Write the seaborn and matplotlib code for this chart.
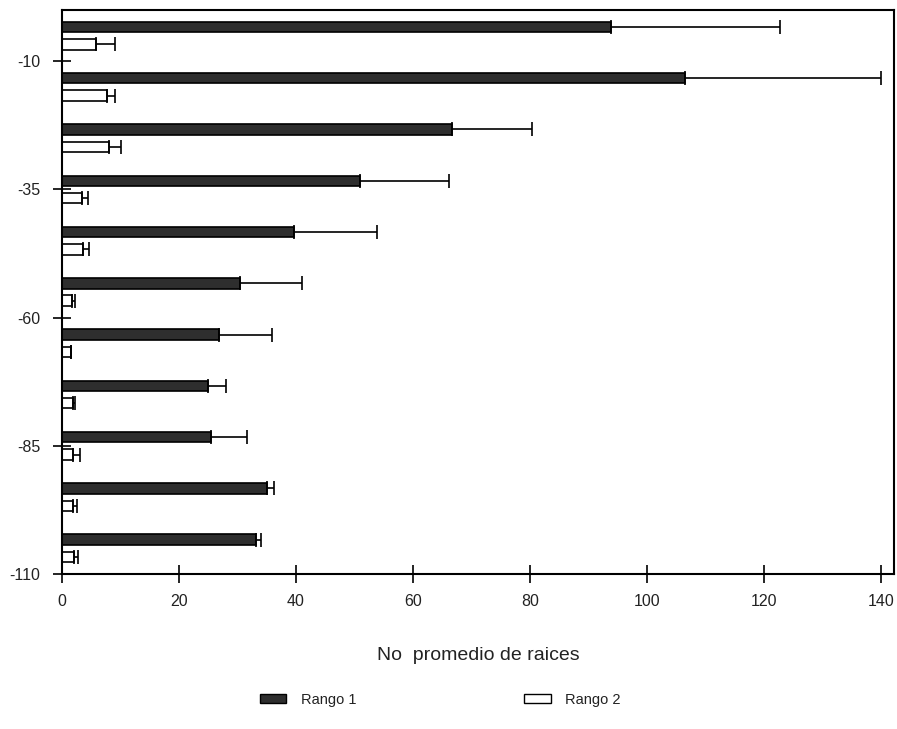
#!/usr/bin/env python3
import matplotlib
matplotlib.use("Agg")
import matplotlib.pyplot as plt
from matplotlib.patches import Patch
import numpy as np
import pandas as pd
import seaborn as sns

# profundidad (centro de cada intervalo, cm)
profundidad = [-5, -15, -25, -35, -45, -55, -65, -75, -85, -95, -105]
rango1 = [93.8, 106.5, 66.7, 51.0, 39.7, 30.4, 26.9, 24.9, 25.4, 35.0, 33.2]
rango1_err = [28.9, 33.5, 13.7, 15.2, 14.1, 10.7, 9.0, 3.1, 6.3, 1.3, 0.8]
rango2 = [5.8, 7.7, 8.0, 3.4, 3.6, 1.7, 1.6, 1.8, 1.8, 1.8, 2.0]
rango2_err = [3.3, 1.4, 2.1, 1.0, 1.0, 0.6, 0.0, 0.5, 1.3, 0.7, 0.8]
y_ticks = [-10, -35, -60, -85, -110]
y_ticklabels = ["-10", "-35", "-60", "-85", "-110"]
x_ticks = [0, 20, 40, 60, 80, 100, 120, 140]

sns.set_style("white")
plt.rcParams["font.family"] = ["Liberation Sans", "DejaVu Sans"]
plt.rcParams["axes.unicode_minus"] = False

df = pd.concat([
    pd.DataFrame({"prof": profundidad, "valor": rango1, "rango": "Rango 1"}),
    pd.DataFrame({"prof": profundidad, "valor": rango2, "rango": "Rango 2"}),
])
errores = {"Rango 1": np.array(rango1_err), "Rango 2": np.array(rango2_err)}
colores = {"Rango 1": "#2e2e2e", "Rango 2": "white"}
hue_order = ["Rango 2", "Rango 1"]

fig = plt.figure(figsize=(8.97, 7.29), dpi=100)
ax = fig.add_axes([0.0691, 0.2126, 0.9275, 0.7737])

sns.barplot(data=df, x="valor", y="prof", hue="rango", hue_order=hue_order,
            orient="h", native_scale=True, width=0.68, gap=0.40,
            errorbar=None, palette=colores, saturation=1, legend=False,
            edgecolor="black", linewidth=1.2, ax=ax)

prof = np.array(profundidad)
for nivel, cont in zip(hue_order, ax.containers):
    for bar in cont:
        yc = bar.get_y() + bar.get_height() / 2
        i = np.argmin(np.abs(prof - yc))
        ax.errorbar(bar.get_width(), yc, xerr=[[0], [errores[nivel][i]]],
                    fmt="none", ecolor="black", elinewidth=1.2,
                    capsize=5, capthick=1.2)

ax.set_xlim(0, 142.2)
ax.set_ylim(-110, 0)
ax.set_yticks(y_ticks)
ax.set_yticklabels(y_ticklabels)
ax.set_xticks(x_ticks)
ax.tick_params(axis="both", direction="inout", length=13, width=1.2,
               labelsize=11.5, color="black", labelcolor="#222222",
               bottom=True, left=True)
ax.tick_params(axis="y", pad=9)
ax.tick_params(axis="x", pad=8)
for s in ax.spines.values():
    s.set_color("black")
    s.set_linewidth(1.5)
ax.set_ylabel("")
ax.set_xlabel("No  promedio de raices", fontsize=14, labelpad=27, color="#222222")

handles = [Patch(facecolor=colores["Rango 1"], edgecolor="black", label="Rango 1"),
           Patch(facecolor=colores["Rango 2"], edgecolor="black", label="Rango 2")]
fig.legend(handles=handles, loc="center left", bbox_to_anchor=(0.282, 0.04),
           ncol=2, frameon=False, borderpad=0, fontsize=10.5,
           handlelength=1.8, handleheight=0.6, handletextpad=1.0,
           columnspacing=11.5, labelcolor="#222222")

fig.savefig("out.png", dpi=100)
